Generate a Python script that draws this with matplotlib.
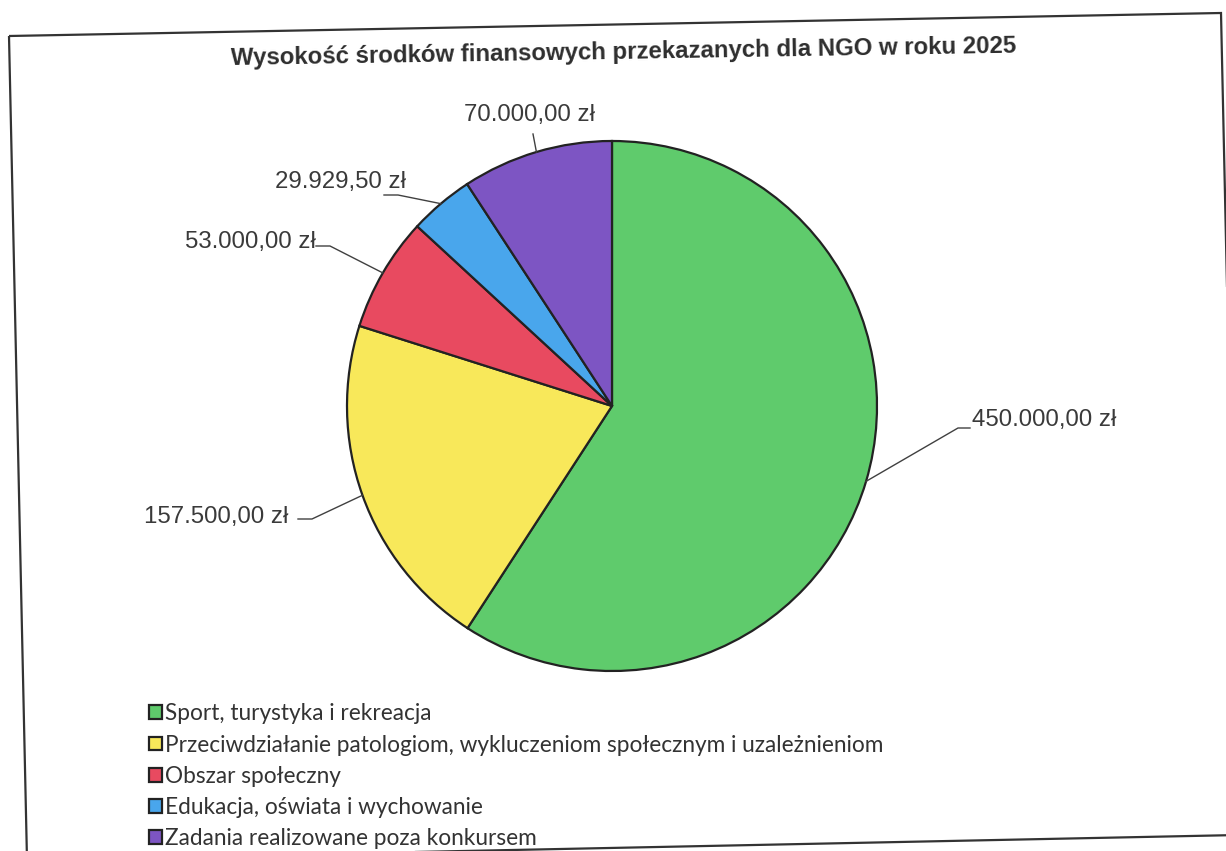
import matplotlib

matplotlib.use("Agg")
import matplotlib.pyplot as plt
import numpy as np
from matplotlib.patches import Polygon

# data
categories = [
    "Sport, turystyka i rekreacja",
    "Przeciwdziałanie patologiom, wykluczeniom społecznym i uzależnieniom",
    "Obszar społeczny",
    "Edukacja, oświata i wychowanie",
    "Zadania realizowane poza konkursem",
]
amounts = [450000.00, 157500.00, 53000.00, 29929.50, 70000.00]
value_labels = ["450.000,00 zł", "157.500,00 zł", "53.000,00 zł", "29.929,50 zł", "70.000,00 zł"]
title = "Wysokość środków finansowych przekazanych dla NGO w roku 2025"

colors = ["#5fcb6c", "#f8e85a", "#e84a60", "#49a6ec", "#7d55c3"]

W, H = 1226, 851
CX, CY, R = 612, H - 406, 265

# label text anchor (pixel coords, y from top) and elbow points
label_pos = [
    (972, 420, "left"),
    (288, 517, "right"),
    (316, 242, "right"),
    (406, 182, "right"),
    (530, 115, "center"),
]
elbows = [
    (966, 428),
    (312, 519),
    (330, 246),
    (398, 195),
    (533, 134),
]

fig = plt.figure(figsize=(W / 100, H / 100), dpi=100)
ax = fig.add_axes([0, 0, 1, 1])

wedges, _ = ax.pie(
    amounts,
    colors=colors,
    center=(CX, CY),
    radius=R,
    startangle=90,
    counterclock=False,
    frame=True,
    wedgeprops=dict(edgecolor="#222222", linewidth=1.6),
)
ax.set_xlim(0, W)
ax.set_ylim(0, H)
ax.axis("off")

for w, lbl, (tx, ty, ha), (ex, ey) in zip(wedges, value_labels, label_pos, elbows):
    mid = np.deg2rad((w.theta1 + w.theta2) / 2)
    px = CX + R * np.cos(mid)
    py = CY + R * np.sin(mid)
    if ha == "center":
        ax.plot([ex, px], [H - ey, py], color="#404040", lw=1.0)
    elif ha == "left":
        ax.plot([ex + 4, ex - 8, px], [H - ey, H - ey, py], color="#404040", lw=1.0)
    else:
        ax.plot([ex - 14, ex, px], [H - ey, H - ey, py], color="#404040", lw=1.0)
    ax.text(tx, H - ty, lbl, ha=ha, va="center", fontsize=17.3,
            family="Liberation Sans", color="#3a3a3a")

ax.text(624, H - 52, title, ha="center", va="center", fontsize=17.3,
        fontweight="bold", family="Liberation Sans", color="#2e2e2e", rotation=0.9)

# scanned frame, slightly tilted
frame = Polygon([(9, H - 36), (1221, H - 13), (1239, H - 835), (27, H - 860)],
                closed=True, fill=False, edgecolor="#333333", lw=1.6)
ax.add_patch(frame)

leg = ax.legend(
    wedges,
    categories,
    loc="upper left",
    bbox_to_anchor=(138 / W, 1 - 692 / H),
    frameon=False,
    handlelength=0.55,
    handleheight=0.55,
    handletextpad=0.15,
    labelspacing=0.45,
    borderpad=0,
    prop={"family": ["Lato", "DejaVu Sans"], "size": 16.3},
)
for t in leg.get_texts():
    t.set_color("#333333")

fig.savefig("out.png", dpi=100)
